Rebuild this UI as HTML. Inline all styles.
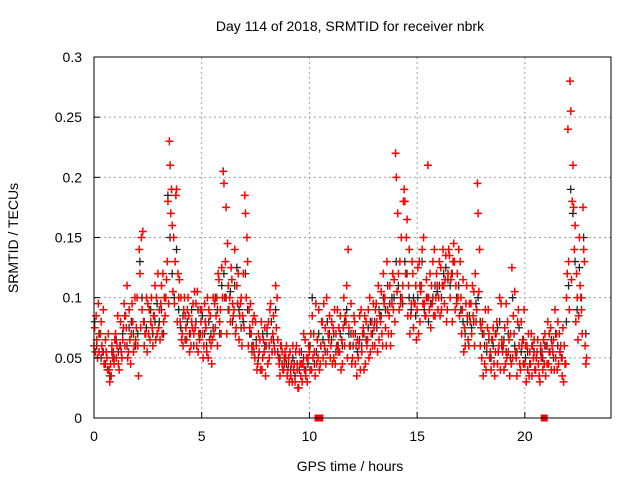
<!DOCTYPE html>
<html><head><meta charset="utf-8"><style>
html,body{margin:0;padding:0;background:#fff}
svg{display:block;font-family:"Liberation Sans",sans-serif}
</style></head><body>
<svg id="chart" width="640" height="480" viewBox="0 0 640 480">
<text x="350" y="31" font-size="14" text-anchor="middle">Day 114 of 2018, SRMTID for receiver nbrk</text>
<text x="350" y="471" font-size="14" text-anchor="middle">GPS time / hours</text>
<text transform="translate(18,238) rotate(-90)" font-size="14" text-anchor="middle">SRMTID / TECUs</text>
<g id="grid"></g><g id="blk"></g><g id="red"></g><g id="axes"></g>
</svg>
<script>
const xTicks=[0,5,10,15,20];
const yTicks=[0,0.05,0.1,0.15,0.2,0.25,0.3];
const yTickLabels=["0","0.05","0.1","0.15","0.2","0.25","0.3"];
const t0=0, dt=0.1; // hours, sample spacing
const srA=[60,85,95,70,55,45,50,40,35,55, 70,85,60,50,95,75,55,45,80,100, 100,140,150,80,70,95,65,75,85,100, 75,95,120,85,130,230,190,150,185,120, 80,70,100,65,85,60,95,75,105,65, 90,60,75,50,85,65,95,100,115,70, 205,130,145,100,115,90,75,120,95,85, 185,150,90,70,60,80,45,65,40,55, 60,80,95,70,55,100,45,60,40,50, 40,55,30,45,60,25,35,45,65,30, 55,40,70,95,50,45,80,60,100,65, 60,75,45,90,55,65,100,80,140,60, 50,80,35,60,90,75,45,65,100,80, 75,95,110,80,60,100,130,85,70,90, 220,170,130,100,190,150,110,85,120,95, 90,130,110,150,85,210,120,95,140,120, 100,125,140,115,90,135,120,145,110,100, 130,90,75,110,60,95,85,120,195,140, 50,70,40,90,55,65,35,80,60,95, 60,45,80,35,125,70,50,90,40,65, 45,60,35,70,50,40,65,30,55,45, 60,45,75,55,90,40,70,50,30,45, 240,280,180,140,120,85,100,175,60];
const srB=[75,65,55,80,90,65,40,30,60,45, 50,45,80,65,60,110,90,70,55,65, 60,120,90,60,100,70,80,60,110,70, 90,110,80,100,180,210,160,95,190,100, 100,60,85,90,55,80,70,95,55,90, 70,95,55,90,60,100,75,60,80,125, 195,175,110,80,95,140,110,65,100,120, 170,130,75,55,85,60,70,40,50,75, 75,50,65,85,110,65,35,55,45,60, 50,35,60,30,40,55,45,70,35,50, 40,85,55,45,90,60,50,75,55,85, 80,50,70,55,85,45,60,110,75,95, 70,45,65,85,55,40,80,90,55,60, 60,80,65,105,120,75,90,110,95,115, 200,120,95,110,180,165,140,95,75,110, 125,80,140,95,115,100,75,130,85,110, 130,90,110,135,120,100,80,130,95,140, 100,115,60,85,95,70,105,80,170,60, 80,45,60,70,40,75,55,45,100,65, 40,95,55,70,50,105,35,60,80,45, 60,40,55,35,65,50,45,60,40,70, 45,70,40,65,50,80,55,35,60,100, 130,255,210,160,100,150,90,140,45];
const srC=[55,50,70,60,45,55,70,45,50,65, 60,40,55,75,85,50,65,95,60,75, 35,75,155,70,55,90,100,85,65,120, 65,70,100,115,95,170,105,130,80,115, 65,90,75,100,70,75,105,60,70,80, 50,80,100,65,45,70,85,120,90,100, 100,70,90,125,85,70,95,85,60,75, 100,60,95,80,50,40,55,80,65,35, 45,90,55,60,75,50,60,40,55,35, 30,45,40,55,25,45,30,40,50,60, 70,50,35,65,40,80,95,45,70,50, 45,90,60,75,40,75,85,50,60,45, 85,60,50,40,70,85,60,50,70,95, 90,55,85,70,95,60,70,60,120,80, 105,90,150,180,120,85,70,130,95,65, 70,105,95,85,100,90,110,85,100,90, 85,110,95,80,140,115,130,90,120,85, 70,55,95,65,80,110,60,90,105,75, 35,90,75,50,65,45,70,55,40,55, 75,50,65,45,85,55,80,45,60,90, 30,70,45,60,40,55,35,50,65,35, 80,55,60,40,70,45,60,75,45,120, 90,115,175,80,65,110,70,130,50];
const srK=[80,60,70,50,55,45,40,35,55,50, 65,55,60,70,85,60,75,80,70,60, 70,130,100,80,75,70,90,70,80,95, 80,90,70,100,185,150,120,100,140,90, 75,85,65,80,70,90,60,80,90,70, 85,70,60,80,70,75,100,90,70,110, 120,100,90,105,80,110,125,90,75,80, 120,90,70,60,55,65,50,40,70,60, 70,60,80,65,90,55,50,45,50,45, 45,40,50,35,45,40,55,50,40,45, 60,100,45,55,70,60,65,55,80,70, 65,70,55,60,70,60,80,90,70,70, 60,70,55,65,60,70,65,75,80,70, 80,75,90,85,100,90,110,95,100,100, 130,110,100,95,130,120,100,90,100,85, 100,110,130,90,100,80,95,100,110,105, 110,100,120,125,115,110,120,130,100,110, 90,80,70,80,85,75,80,95,100,80, 70,60,55,65,50,60,70,75,80,60, 65,55,70,50,100,60,55,75,55,65, 50,55,45,60,55,50,45,55,50,60, 60,55,65,50,70,60,55,50,60,80, 110,190,170,130,90,125,100,150,70];
const zeroHours=[10.4,20.9];
const zeroBarHours=[10.6];

const NS="http://www.w3.org/2000/svg";
const L=94,R=611,T=57,B=418,XMAX=24,YMAX=0.3;
const xs=h=>L+(h/XMAX)*(R-L);
const ys=v=>B-(v/YMAX)*(B-T);
function mk(tag,attrs,parent){const e=document.createElementNS(NS,tag);for(const k in attrs)e.setAttribute(k,attrs[k]);parent.appendChild(e);return e;}
const grid=document.getElementById('grid'),axes=document.getElementById('axes');
const fr=mk('rect',{x:L,y:T,width:R-L,height:B-T,fill:'none',stroke:'#000','stroke-width':1},axes);


xTicks.forEach(h=>{const x=xs(h);
 if(h>0){const g=mk('line',{x1:x,x2:x,y1:T,y2:B,stroke:'#a0a0a0','stroke-dasharray':'2,3'},grid);}
 const tk=mk('line',{x1:x,x2:x,y1:B,y2:B-6,stroke:'#000'},axes);
 const t=mk('text',{x:x,y:B+23,'font-size':14,'text-anchor':'middle'},axes);t.textContent=h;
 
 });
yTicks.forEach((v,i)=>{const y=ys(v);
 if(v>0&&v<YMAX){const g=mk('line',{x1:L,x2:R,y1:y,y2:y,stroke:'#a0a0a0','stroke-dasharray':'2,3'},grid);}
 const tk=mk('line',{x1:L,x2:L+6,y1:y,y2:y,stroke:'#000'},axes);
 const t=mk('text',{x:82,y:y+5,'font-size':14,'text-anchor':'end'},axes);t.textContent=yTickLabels[i];
 
 });
function plus(h,v,color,parent,name,sw){const x=xs(h),y=ys(v);
 const p=mk('path',{d:`M${x-4} ${y}H${x+4}M${x} ${y-4}V${y+4}`,stroke:color,'stroke-width':sw,fill:'none'},parent);
 
 }
const blk=document.getElementById('blk'),red=document.getElementById('red');
srK.forEach((v,i)=>plus(t0+i*dt+0.03,v/1000,'#222',blk,'srmtid-point-other',1.3));
[srA,srB,srC].forEach((arr,j)=>arr.forEach((v,i)=>plus(t0+i*dt+j*0.033,v/1000,'#ff0000',red,'srmtid-point',1.5)));
zeroHours.forEach(h=>{const r=mk('rect',{x:xs(h)-3.5,y:ys(0)-3.5,width:7,height:7,fill:'#ff0000'},red);
 
 });
zeroBarHours.forEach(h=>{const r=mk('rect',{x:xs(h)-1,y:ys(0)-3.5,width:2,height:7,fill:'#ff0000'},red);
 
 });
</script>
</body></html>
